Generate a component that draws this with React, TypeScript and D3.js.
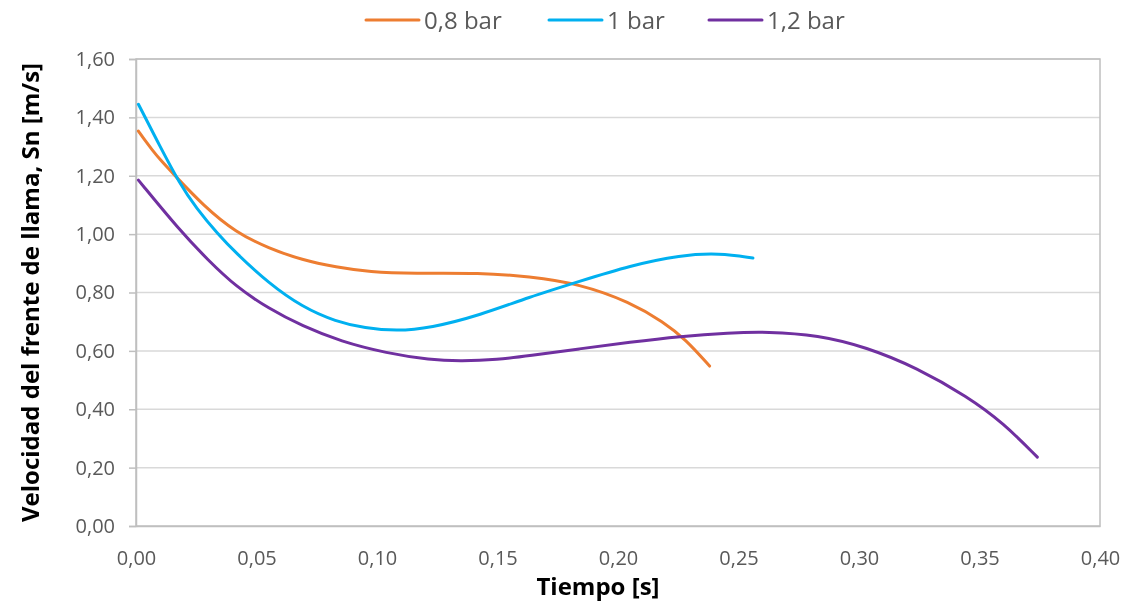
import React, { useEffect, useRef } from "react";
import * as d3 from "d3";

// tiempo [s], velocidad [m/s]
const serie08: [number, number][] = [
	[0.001, 1.353], [0.004, 1.318], [0.0066, 1.29], [0.01, 1.255], [0.016, 1.202],
	[0.0278, 1.099], [0.0415, 1.005], [0.055, 0.952], [0.069, 0.911], [0.083, 0.887],
	[0.097, 0.87], [0.115, 0.865], [0.143, 0.868], [0.163, 0.855], [0.184, 0.83],
	[0.205, 0.767], [0.219, 0.698], [0.228, 0.64], [0.238, 0.548],
];
const serie10: [number, number][] = [
	[0.001, 1.445], [0.01, 1.3], [0.018, 1.175], [0.025, 1.089], [0.034, 1.0],
	[0.0415, 0.935], [0.055, 0.832], [0.069, 0.75], [0.083, 0.7], [0.095, 0.678],
	[0.108, 0.668], [0.122, 0.678], [0.143, 0.723], [0.163, 0.784], [0.184, 0.838],
	[0.205, 0.892], [0.226, 0.928], [0.242, 0.935], [0.256, 0.918],
];
const serie12: [number, number][] = [
	[0.001, 1.185], [0.018, 1.014], [0.03, 0.91], [0.0415, 0.82], [0.055, 0.745],
	[0.069, 0.685], [0.085, 0.632], [0.104, 0.592], [0.122, 0.569], [0.135, 0.565],
	[0.15, 0.57], [0.163, 0.583], [0.184, 0.607], [0.205, 0.63], [0.226, 0.65],
	[0.246, 0.662], [0.262, 0.666], [0.283, 0.654], [0.303, 0.613], [0.324, 0.542],
	[0.345, 0.443], [0.36, 0.352], [0.374, 0.236],
];

const seriesNames = ["0,8 bar", "1 bar", "1,2 bar"];
const seriesData = [serie08, serie10, serie12];
const colors = ["#ED7D31", "#00B0F0", "#7030A0"];
const xTicks = [0, 0.05, 0.1, 0.15, 0.2, 0.25, 0.3, 0.35, 0.4];
const yTicks = [0, 0.2, 0.4, 0.6, 0.8, 1.0, 1.2, 1.4, 1.6];

const fmt = (v: number) => v.toFixed(2).replace(".", ",");

export default function App() {
	const ref = useRef<HTMLDivElement>(null);

	useEffect(() => {
		const width = 1129;
		const height = 602;
		const margin = { top: 59, right: 29, bottom: 76, left: 136 };
		const font = "'Open Sans', sans-serif";

		d3.select(ref.current).selectAll("*").remove();
		const svg = d3
			.select(ref.current)
			.append("svg")
			.attr("width", width)
			.attr("height", height)
			.style("display", "block");

		const x = d3.scaleLinear().domain([0, 0.4]).range([margin.left, width - margin.right]);
		const y = d3.scaleLinear().domain([0, 1.6]).range([height - margin.bottom, margin.top]);

		// gridlines
		svg
			.append("g")
			.selectAll("line")
			.data(yTicks.slice(1))
			.join("line")
			.attr("x1", margin.left)
			.attr("x2", width - margin.right)
			.attr("y1", (d) => y(d))
			.attr("y2", (d) => y(d))
			.attr("stroke", "#d9d9d9")
			.attr("stroke-width", 1.5);

		// plot border
		svg
			.append("rect")
			.attr("x", margin.left)
			.attr("y", margin.top)
			.attr("width", width - margin.left - margin.right)
			.attr("height", height - margin.top - margin.bottom)
			.attr("fill", "none")
			.attr("stroke", "#bfbfbf")
			.attr("stroke-width", 1.5);

		// y axis
		const yAxis = svg
			.append("g")
			.attr("transform", `translate(${margin.left},0)`)
			.call(d3.axisLeft(y).tickValues(yTicks).tickFormat((d) => fmt(+d)).tickSize(7).tickPadding(14));
		yAxis.select(".domain").attr("stroke", "#bfbfbf").attr("stroke-width", 1.5);
		yAxis.selectAll(".tick line").attr("stroke", "#bfbfbf").attr("stroke-width", 1.5);
		yAxis.selectAll("text").attr("fill", "#595959").style("font-family", font).style("font-size", "20px");

		// x axis
		const xAxis = svg
			.append("g")
			.attr("transform", `translate(0,${height - margin.bottom})`)
			.call(d3.axisBottom(x).tickValues(xTicks).tickFormat((d) => fmt(+d)).tickSize(0).tickPadding(25));
		xAxis.select(".domain").attr("stroke", "#bfbfbf").attr("stroke-width", 1.5);
		xAxis.selectAll("text").attr("fill", "#595959").style("font-family", font).style("font-size", "20px");

		// lines
		const line = d3
			.line<[number, number]>()
			.x((d) => x(d[0]))
			.y((d) => y(d[1]))
			.curve(d3.curveBasis);

		seriesData.forEach((s, i) => {
			svg
				.append("path")
				.datum(s)
				.attr("fill", "none")
				.attr("stroke", colors[i])
				.attr("stroke-width", 3)
				.attr("stroke-linecap", "round")
				.attr("d", line);
		});

		// axis titles
		svg
			.append("text")
			.attr("x", 598)
			.attr("y", 595)
			.attr("text-anchor", "middle")
			.style("font-family", font)
			.style("font-weight", "bold")
			.style("font-size", "24px")
			.text("Tiempo [s]");

		svg
			.append("text")
			.attr("transform", `translate(39,${(margin.top + height - margin.bottom) / 2}) rotate(-90)`)
			.attr("text-anchor", "middle")
			.style("font-family", font)
			.style("font-weight", "bold")
			.style("font-size", "24px")
			.text("Velocidad del frente de llama, Sn [m/s]");

		// legend
		const legendX = [366, 549, 709];
		const legend = svg.append("g");
		seriesNames.forEach((name, i) => {
			legend
				.append("line")
				.attr("x1", legendX[i])
				.attr("x2", legendX[i] + 53)
				.attr("y1", 20)
				.attr("y2", 20)
				.attr("stroke", colors[i])
				.attr("stroke-width", 3)
				.attr("stroke-linecap", "round");
			legend
				.append("text")
				.attr("x", legendX[i] + 58)
				.attr("y", 29)
				.attr("fill", "#595959")
				.style("font-family", font)
				.style("font-size", "24px")
				.text(name);
		});
	}, []);

	return <div ref={ref} style={{ position: "fixed", left: 0, top: 0 }}></div>;
}
